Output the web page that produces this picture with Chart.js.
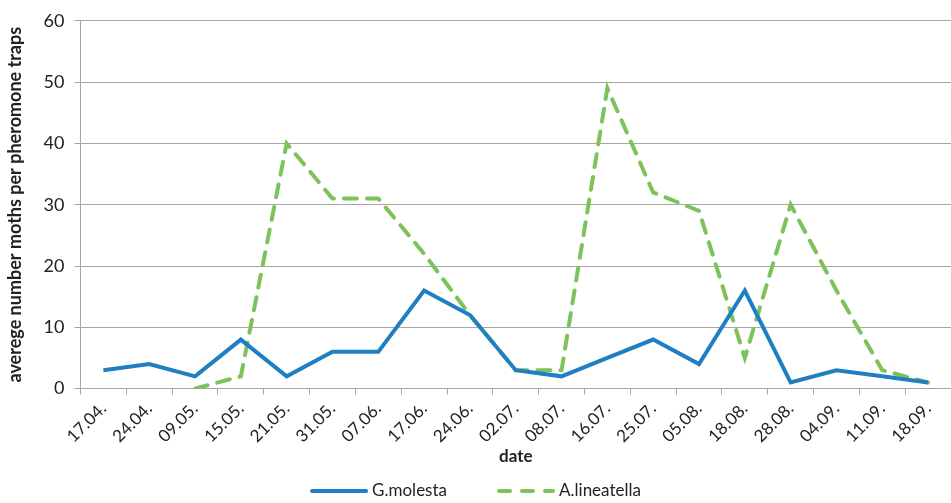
<!DOCTYPE html>
<html>
<head>
<meta charset="utf-8">
<script src="https://cdn.jsdelivr.net/npm/chart.js"></script>
<style>
  html, body { margin: 0; padding: 0; background: #fff; }
  #wrap { width: 951px; height: 503px; }
</style>
</head>
<body>
<div id="wrap"><canvas id="grafico"></canvas></div>
<script>
// ─── dados ───
var datas = ['17.04.','24.04.','09.05.','15.05.','21.05.','31.05.','07.06.','17.06.','24.06.','02.07.',
             '08.07.','16.07.','25.07.','05.08.','18.08.','28.08.','04.09.','11.09.','18.09.'];
var gMolesta = [3, 4, 2, 8, 2, 6, 6, 16, 12, 3, 2, 5, 8, 4, 16, 1, 3, 2, 1];
var aLineatella = [null, null, 0, 2, 40, 31, 31, 22, 12, 3, 3, 49, 32, 29, 5, 30, 16, 3, 1];
var yTicks = [0, 10, 20, 30, 40, 50, 60];

var FONTE = 'Lato, "Open Sans", sans-serif';
var AZUL = '#1f7fc2';
var VERDE = '#7dc25a';
var GRADE = '#a6a6a6';

// legenda própria: a amostra tracejada não saía no legend do Chart.js
var legendaLinhas = {
  id: 'legendaLinhas',
  afterDraw: function(chart) {
    var c = chart.ctx;
    var ds = chart.data.datasets;
    var linha = 58, gap = 4, entre = 50, y = 491;
    c.save();
    c.font = '17px ' + FONTE;
    var larguras = ds.map(function(d) { return c.measureText(d.label).width; });
    var total = larguras.reduce(function(a, w) { return a + linha + gap + w; }, 0) + entre * (ds.length - 1);
    var x = chart.width / 2 - total / 2;
    ds.forEach(function(d, i) {
      c.strokeStyle = d.borderColor;
      c.lineWidth = 4;
      c.lineCap = 'round';
      c.setLineDash(d.borderDash ? [11, 12] : []);
      c.beginPath();
      c.moveTo(x + 2, y);
      c.lineTo(x + linha - 2, y);
      c.stroke();
      c.setLineDash([]);
      c.fillStyle = '#222';
      c.textBaseline = 'middle';
      c.textAlign = 'left';
      c.fillText(d.label, x + linha + gap, y);
      x += linha + gap + larguras[i] + entre;
    });
    c.restore();
  }
};

var ctx = document.getElementById('grafico').getContext('2d');
new Chart(ctx, {
  type: 'line',
  data: {
    labels: datas,
    datasets: [{
      label: 'G.molesta',
      data: gMolesta,
      borderColor: AZUL,
      backgroundColor: AZUL,
      borderWidth: 4,
      pointRadius: 0,
      tension: 0,
      fill: false
    }, {
      label: 'A.lineatella',
      data: aLineatella,
      borderColor: VERDE,
      backgroundColor: VERDE,
      borderWidth: 4,
      borderDash: [13, 10],
      borderCapStyle: 'round',
      pointRadius: 0,
      tension: 0,
      fill: false,
      spanGaps: false
    }]
  },
  options: {
    responsive: true,
    maintainAspectRatio: false,
    animation: false,
    layout: { padding: { top: 10, right: 0, left: 4, bottom: 19 } },
    plugins: {
      tooltip: { enabled: false },
      legend: { display: false }
    },
    scales: {
      x: {
        offset: true,
        grid: { offset: true, drawOnChartArea: false, drawTicks: true, tickLength: 6, color: GRADE },
        border: { color: GRADE, width: 1 },
        ticks: {
          color: '#222',
          font: { family: FONTE, size: 17 },
          minRotation: 45,
          maxRotation: 45,
          autoSkip: false,
          padding: 4
        },
        title: {
          display: true,
          text: 'date',
          color: '#222',
          font: { family: FONTE, size: 17, weight: 'bold' },
          padding: { top: -4, bottom: 17 }
        }
      },
      y: {
        min: 0,
        max: 60,
        afterBuildTicks: function(axis) {
          axis.ticks = yTicks.map(function(v) { return { value: v }; });
        },
        grid: { color: GRADE, lineWidth: 1, drawTicks: true, tickLength: 6 },
        border: { color: GRADE, width: 1 },
        ticks: {
          color: '#222',
          font: { family: FONTE, size: 18 },
          padding: 10
        },
        title: {
          display: true,
          text: 'averege number moths per pheromone traps',
          color: '#222',
          font: { family: FONTE, size: 18, weight: 'bold' },
          padding: { top: 0, bottom: 8 }
        }
      }
    }
  },
  plugins: [legendaLinhas]
});
</script>
</body>
</html>
